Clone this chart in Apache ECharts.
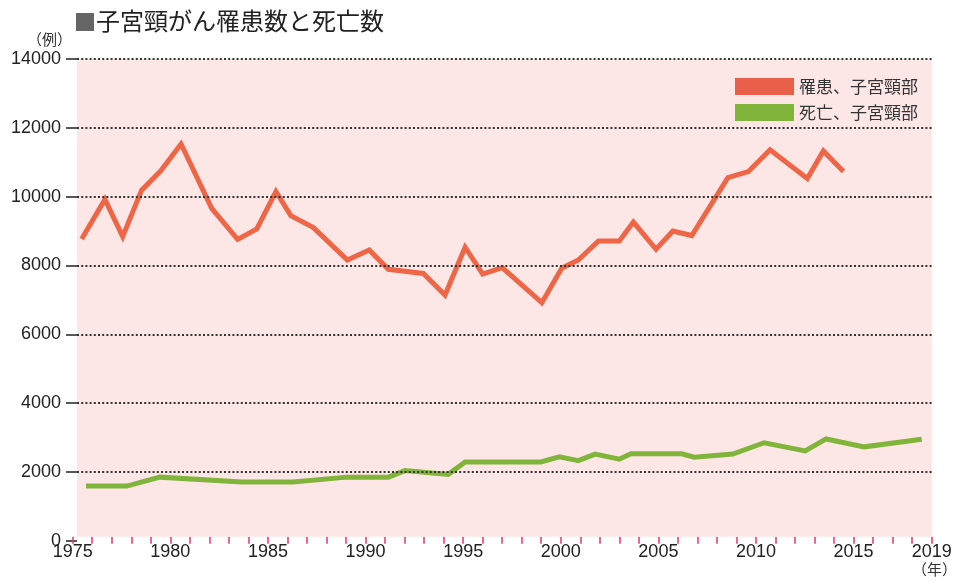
<!DOCTYPE html>
<html><head><meta charset="utf-8">
<script src="https://cdn.jsdelivr.net/npm/echarts@6/dist/echarts.min.js"></script>
<style>html,body{margin:0;padding:0;background:#fff}#c{width:956px;height:582px}</style>
</head><body><div id="c"></div><script>
// 罹患数（子宮頸部）: x positions (years) and values
const incidenceYears = [1975.46,1976.65,1977.56,1978.53,1979.51,1980.55,1982.12,1983.45,1984.43,1985.41,1986.17,1987.33,1989.07,1990.19,1991.17,1992.96,1994.07,1995.1,1996.0,1997.0,1999.03,2000.05,2000.9,2001.93,2003.0,2003.72,2004.88,2005.74,2006.71,2008.56,2009.61,2010.72,2012.63,2013.45,2014.48];
const incidenceValues = [8770,9920,8840,10190,10750,11530,9660,8760,9060,10150,9450,9100,8160,8450,7890,7770,7140,8530,7750,7940,6920,7920,8160,8710,8710,9260,8470,9000,8870,10550,10730,11360,10530,11330,10730];
// 死亡数（子宮頸部）
const mortalityYears = [1975.68,1977.77,1979.47,1983.66,1986.3,1989.04,1991.17,1992.02,1994.24,1995.1,1998.98,1999.93,2000.9,2001.76,2003.0,2003.59,2006.2,2006.83,2008.81,2010.42,2012.52,2013.59,2015.54,2018.49];
const mortalityValues = [1590,1590,1850,1710,1710,1850,1850,2040,1930,2290,2290,2440,2330,2520,2370,2530,2530,2430,2520,2850,2610,2960,2730,2950];
// axes
const xLabelYears = [1975,1980,1985,1990,1995,2000,2005,2010,2015,2019];
const xTickYears = [];
for (let y = 1975; y <= 2019; y++) xTickYears.push(y);
const yTicks = [0,2000,4000,6000,8000,10000,12000,14000];
const seriesNames = ['罹患、子宮頸部','死亡、子宮頸部'];
const titleText = '子宮頸がん罹患数と死亡数';

const xMin = 1975, xMax = 2019, plotStart = 1975.22;
const zip = (a, b) => a.map((v, i) => [v, b[i]]);
const gridLines = yTicks.filter(v => v > 0).map(v => [{xAxis: plotStart, yAxis: v}, {xAxis: xMax, yAxis: v}]);

const chart = echarts.init(document.getElementById('c'), null, {renderer: 'canvas'});
const numFont = 'Liberation Sans';
const cjkFont = 'Noto Sans CJK JP';
chart.setOption({
  animation: false,
  backgroundColor: '#fff',
  grid: {left: 72.7, right: 24.3, top: 59, bottom: 41.2},
  xAxis: {
    type: 'value', min: xMin, max: xMax, offset: -4,
    axisLine: {show: false}, splitLine: {show: false},
    axisTick: {show: true, customValues: xTickYears, length: 7, lineStyle: {color: '#e8336e', width: 1.5}},
    axisLabel: {customValues: xLabelYears, fontSize: 18, color: '#222', fontFamily: numFont, margin: 6,
      formatter: v => String(Math.round(v))}
  },
  yAxis: {
    type: 'value', min: 0, max: 14000, interval: 2000, offset: -4.3,
    axisLine: {show: false}, splitLine: {show: false},
    axisTick: {show: true, length: 11, lineStyle: {color: '#222', width: 1.5}},
    axisLabel: {fontSize: 18, color: '#222', fontFamily: numFont, margin: 16, formatter: v => String(v)}
  },
  legend: {
    data: seriesNames, orient: 'vertical', right: 33, top: 73, itemGap: 9,
    icon: 'rect', itemWidth: 59, itemHeight: 17,
    textStyle: {fontSize: 17, color: '#333', fontFamily: cjkFont}
  },
  graphic: [
    {type: 'rect', left: 76, top: 13, shape: {width: 18, height: 18}, style: {fill: '#666'}},
    {type: 'text', left: 96, top: 9, style: {text: titleText, font: '24px "Noto Sans CJK JP"', fill: '#222'}},
    {type: 'text', left: 27, top: 32, style: {text: '（例）', font: '15px "Noto Sans CJK JP"', fill: '#333'}},
    {type: 'text', left: 912, top: 562, style: {text: '（年）', font: '15px "Noto Sans CJK JP"', fill: '#333'}}
  ],
  series: [
    {
      name: 'bg', type: 'line', data: [], z: 1, silent: true,
      markArea: {silent: true, itemStyle: {color: '#fde6e6'},
        data: [[{xAxis: plotStart, yAxis: 120}, {xAxis: xMax, yAxis: 14000}]]},
      markLine: {silent: true, symbol: 'none', label: {show: false},
        lineStyle: {color: '#333', width: 1.8, type: [2, 2.2]}, data: gridLines}
    },
    {
      name: seriesNames[0], type: 'line', z: 3, showSymbol: false, symbol: 'none',
      data: zip(incidenceYears, incidenceValues),
      itemStyle: {color: '#e9604a'},
      lineStyle: {color: '#ee6646', width: 5, join: 'miter'}
    },
    {
      name: seriesNames[1], type: 'line', z: 3, showSymbol: false, symbol: 'none',
      data: zip(mortalityYears, mortalityValues),
      itemStyle: {color: '#80b43a'},
      lineStyle: {color: '#80b43a', width: 5, join: 'miter'}
    }
  ]
});
</script></body></html>
